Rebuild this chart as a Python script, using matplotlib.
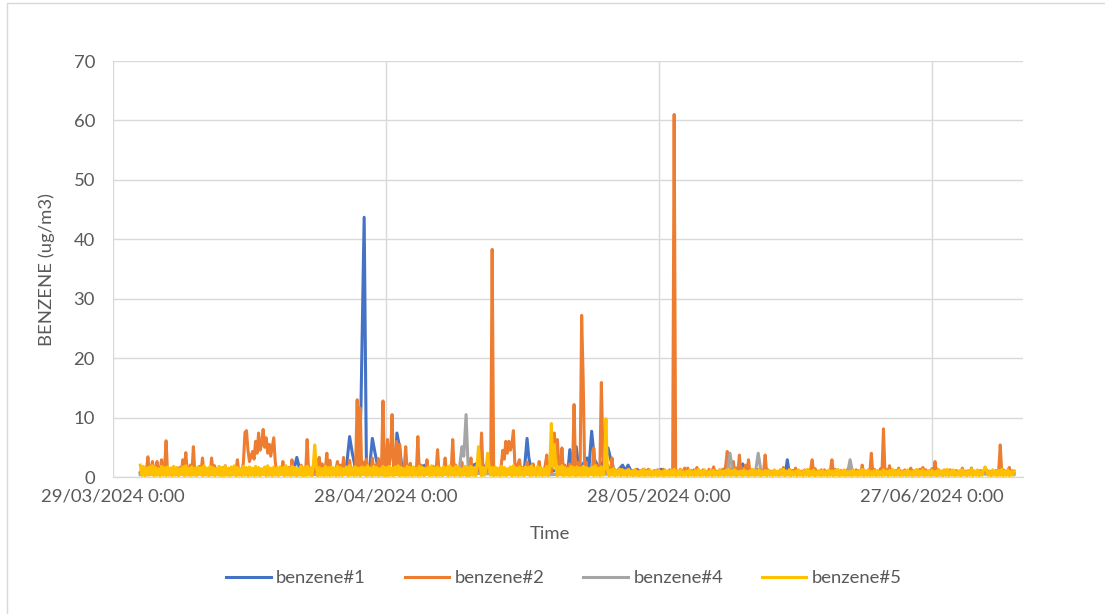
import matplotlib
matplotlib.use("Agg")
import matplotlib.pyplot as plt
from matplotlib.patches import Rectangle
from datetime import datetime, timedelta
import pandas as pd

# benzene#2 and #5 readings, one value every 4 h from 01/04/2024 00:00
# (each row below = 3 days)
START = datetime(2024, 4, 1)

benzene2 = [
    0.8, 0.5, 1.2, 0.6, 0.9, 3.4, 0.6, 1.0, 2.6, 0.7, 1.2, 2.6, 0.5, 0.9, 2.9, 0.6, 1.4, 6.1,
    0.6, 1.1, 0.5, 1.5, 0.6, 1.2, 0.5, 0.9, 1.6, 0.6, 2.9, 0.7, 4.1, 0.6, 1.0, 2.0, 0.6, 5.1,
    0.6, 1.2, 0.5, 1.8, 0.6, 3.2, 0.5, 1.1, 0.6, 1.4, 0.5, 3.2, 0.7, 1.9, 0.5, 1.0, 0.6, 1.2,
    0.5, 1.0, 1.9, 0.6, 1.2, 0.5, 0.8, 0.6, 1.5, 0.6, 2.9, 0.7, 1.3, 0.6, 2.5, 7.5, 7.8, 4.5,
    2.6, 3.5, 4.3, 3.0, 6.0, 4.0, 7.4, 4.5, 5.5, 8.0, 5.0, 6.6, 4.0, 5.5, 3.5, 5.0, 6.6, 2.5,
    0.8, 0.5, 1.2, 0.6, 2.6, 0.5, 1.0, 0.6, 1.6, 0.5, 2.9, 0.6, 1.1, 0.5, 1.3, 0.6, 2.0, 0.5,
    1.2, 0.6, 6.3, 0.7, 1.5, 0.5, 1.8, 0.6, 1.2, 2.5, 3.3, 0.7, 2.2, 0.6, 1.4, 4.0, 0.7, 2.8,
    0.6, 1.5, 0.5, 1.2, 2.6, 0.6, 2.0, 0.5, 3.3, 0.6, 1.4, 0.5, 2.8, 0.6, 1.5, 0.7, 2.0, 13.0,
    1.5, 11.6, 0.7, 2.5, 0.6, 3.0, 0.5, 1.5, 0.6, 3.2, 0.7, 2.0, 0.5, 3.1, 0.6, 1.2, 12.8, 0.8,
    1.5, 6.3, 2.0, 3.5, 10.5, 1.5, 2.0, 6.0, 1.0, 5.5, 1.5, 0.8, 1.5, 5.1, 0.7, 1.2, 2.3, 0.6,
    0.8, 1.5, 0.6, 6.8, 0.7, 2.0, 0.5, 1.3, 0.6, 2.9, 0.5, 1.2, 0.6, 1.8, 0.5, 1.0, 4.6, 0.6,
    1.4, 0.6, 1.0, 3.2, 0.6, 1.5, 0.5, 1.2, 6.3, 0.7, 2.0, 0.5, 1.3, 0.6, 2.5, 0.5, 1.2, 0.6,
    0.7, 1.4, 3.2, 0.6, 1.5, 0.5, 2.0, 0.6, 1.2, 7.4, 0.7, 1.6, 0.6, 1.3, 2.0, 0.6, 38.3, 0.8,
    1.5, 0.6, 1.2, 0.5, 2.0, 4.5, 3.0, 6.0, 4.0, 6.0, 4.5, 5.5, 7.8, 2.0, 1.0, 2.2, 2.9, 0.7,
    1.6, 0.6, 1.2, 2.5, 0.6, 1.8, 0.5, 2.2, 0.6, 1.4, 0.5, 2.6, 0.7, 1.3, 0.6, 2.0, 3.7, 0.6,
    1.8, 0.6, 2.5, 7.4, 3.0, 6.3, 2.0, 1.2, 4.9, 0.8, 2.0, 0.6, 1.5, 2.2, 0.6, 1.2, 12.2, 0.8,
    2.5, 0.8, 1.5, 27.2, 16.5, 1.0, 2.5, 0.6, 1.5, 0.7, 1.0, 4.9, 0.8, 2.0, 0.6, 1.2, 15.9, 4.0,
    1.2, 0.6, 2.0, 0.7, 1.0, 3.2, 0.6, 1.2, 0.5, 1.0, 0.6, 1.3, 0.5, 0.9, 0.6, 1.2, 0.5, 1.0,
    0.6, 1.1, 0.5, 1.3, 0.6, 0.9, 0.5, 1.2, 0.6, 1.0, 0.5, 1.3, 0.6, 0.8, 0.5, 1.1, 0.6, 1.2,
    0.5, 1.0, 0.6, 1.3, 0.5, 0.9, 0.6, 1.2, 0.5, 1.0, 61.0, 0.6, 1.0, 0.5, 1.3, 0.6, 1.0, 1.5,
    0.6, 1.5, 0.5, 1.1, 0.6, 1.2, 0.5, 1.6, 0.6, 1.0, 0.5, 1.2, 0.6, 0.9, 0.5, 1.3, 0.6, 1.0,
    1.7, 0.6, 1.0, 0.5, 1.2, 0.6, 1.3, 0.7, 2.0, 4.3, 1.5, 0.8, 1.2, 2.6, 0.7, 1.5, 0.8, 3.7,
    0.7, 1.5, 0.6, 2.0, 0.5, 2.9, 0.6, 1.2, 0.5, 1.0, 0.6, 1.3, 0.5, 1.2, 0.6, 1.0, 3.7, 0.6,
    1.2, 0.5, 1.0, 0.6, 1.1, 0.5, 0.9, 0.6, 1.2, 0.5, 1.6, 0.6, 1.0, 0.5, 1.3, 0.6, 1.1, 0.5,
    1.5, 0.6, 1.1, 0.5, 1.0, 0.6, 1.2, 0.5, 1.0, 0.6, 1.3, 2.9, 0.6, 1.4, 0.5, 1.0, 0.6, 1.2,
    0.5, 1.2, 0.6, 1.0, 0.5, 1.1, 2.9, 0.6, 1.3, 0.5, 1.0, 0.6, 1.1, 0.5, 1.0, 0.6, 1.2, 0.5,
    1.4, 0.6, 1.0, 0.5, 1.2, 0.6, 1.1, 0.5, 2.0, 0.6, 1.0, 0.5, 1.2, 0.6, 4.0, 0.5, 1.3, 0.6,
    1.0, 0.5, 1.4, 0.6, 8.1, 0.5, 1.2, 0.6, 1.9, 0.5, 1.0, 0.6, 1.1, 0.5, 1.5, 0.6, 1.0, 0.5,
    1.2, 0.6, 1.0, 0.5, 1.5, 0.6, 1.1, 0.5, 1.0, 0.6, 1.3, 0.5, 1.6, 0.6, 1.2, 0.5, 1.0, 0.6,
    1.4, 0.5, 2.6, 0.6, 1.3, 0.5, 1.0, 0.6, 1.2, 0.5, 0.9, 0.6, 1.2, 0.5, 1.0, 0.6, 1.1, 0.5,
    1.0, 0.6, 1.5, 0.5, 1.0, 0.6, 1.1, 0.5, 1.5, 0.6, 1.0, 0.5, 0.9, 0.6, 1.1, 0.5, 1.0, 0.6,
    1.2, 0.5, 1.0, 0.6, 0.9, 0.5, 1.1, 0.6, 1.2, 5.4, 0.6, 1.2, 1.0, 0.5, 1.1, 1.6, 0.6, 1.0,
    1.0,
]

benzene5 = [
    2.0, 0.3, 1.8, 0.2, 1.5, 0.3, 1.7, 0.4, 1.9, 0.2, 1.6, 0.3, 1.4, 0.2, 1.8, 0.3, 1.6, 0.2,
    1.7, 0.3, 1.5, 0.2, 1.8, 0.3, 1.6, 0.2, 1.4, 0.4, 1.7, 0.2, 1.9, 0.3, 1.5, 0.2, 1.7, 0.3,
    1.5, 0.2, 1.7, 0.4, 1.6, 0.2, 1.9, 0.3, 1.5, 0.2, 1.8, 0.3, 1.6, 0.2, 1.4, 0.3, 1.8, 0.2,
    1.6, 0.2, 1.8, 0.3, 1.5, 0.2, 1.7, 0.4, 1.9, 0.2, 1.6, 0.3, 1.4, 0.2, 1.8, 0.3, 1.6, 0.2,
    1.7, 0.3, 1.5, 0.2, 1.8, 0.3, 1.6, 0.2, 1.4, 0.4, 1.7, 0.2, 1.9, 0.3, 1.5, 0.2, 1.7, 0.3,
    1.5, 0.2, 1.7, 0.4, 1.6, 0.2, 1.9, 0.3, 1.5, 0.2, 1.8, 0.3, 1.6, 0.2, 1.4, 0.3, 1.8, 0.2,
    1.6, 0.2, 1.8, 0.3, 1.5, 0.2, 1.7, 5.4, 1.9, 0.2, 1.6, 0.3, 1.4, 0.2, 1.8, 0.3, 1.6, 0.2,
    1.7, 0.3, 1.5, 0.2, 1.8, 0.3, 1.6, 0.2, 1.4, 0.4, 1.7, 0.2, 1.9, 0.3, 1.5, 0.2, 1.7, 0.3,
    1.5, 0.2, 1.7, 0.4, 1.6, 0.2, 1.9, 0.3, 1.5, 0.2, 1.8, 0.3, 1.6, 0.2, 1.4, 0.3, 1.8, 0.2,
    1.6, 0.2, 1.8, 0.3, 1.5, 0.2, 1.7, 0.4, 1.9, 0.2, 1.6, 0.3, 1.4, 0.2, 1.8, 0.3, 1.6, 0.2,
    1.7, 0.3, 1.5, 0.2, 1.8, 0.3, 1.6, 0.2, 1.4, 0.4, 1.7, 0.2, 1.9, 0.3, 1.5, 0.2, 1.7, 0.3,
    1.5, 0.2, 1.7, 0.4, 1.6, 0.2, 1.9, 0.3, 1.5, 0.2, 1.8, 0.3, 1.6, 0.2, 1.4, 0.3, 1.8, 0.2,
    1.6, 0.2, 1.8, 0.3, 1.5, 0.2, 1.7, 5.1, 1.9, 0.2, 1.6, 0.3, 1.4, 4.0, 1.8, 0.3, 1.6, 0.2,
    1.7, 0.3, 1.5, 0.2, 1.8, 0.3, 1.6, 0.2, 1.4, 0.4, 1.7, 0.2, 1.9, 0.3, 1.5, 0.2, 1.7, 0.3,
    1.5, 0.2, 1.7, 0.4, 1.6, 0.2, 1.9, 0.3, 1.5, 0.2, 1.8, 0.3, 1.6, 0.2, 1.4, 0.3, 1.8, 0.2,
    1.6, 9.0, 1.8, 5.5, 1.5, 0.2, 1.7, 0.4, 1.9, 0.2, 1.6, 0.3, 1.4, 0.2, 1.8, 0.3, 1.6, 0.2,
    1.7, 0.3, 1.5, 0.2, 1.8, 0.3, 1.6, 0.2, 1.4, 0.4, 1.7, 0.2, 1.9, 0.3, 1.5, 0.2, 1.7, 0.3,
    1.4, 9.8, 1.3, 0.2, 1.2, 0.3, 1.4, 0.2, 1.1, 0.3, 1.3, 0.2, 1.2, 0.3, 1.1, 0.2, 1.3, 0.3,
    1.0, 0.2, 1.2, 0.3, 0.9, 0.2, 1.1, 0.3, 1.3, 0.2, 1.0, 0.3, 1.2, 0.2, 0.9, 0.3, 1.1, 0.2,
    1.1, 0.3, 0.9, 0.2, 1.2, 0.3, 1.0, 0.2, 1.1, 0.3, 1.3, 0.2, 1.0, 0.3, 1.2, 0.2, 0.9, 0.3,
    1.0, 0.2, 1.2, 0.3, 0.9, 0.2, 1.1, 0.3, 1.3, 0.2, 1.0, 0.3, 1.2, 0.2, 0.9, 0.3, 1.1, 0.2,
    1.1, 0.3, 0.9, 0.2, 1.2, 0.3, 1.0, 0.2, 1.1, 0.3, 1.3, 0.2, 1.0, 0.3, 1.2, 0.2, 0.9, 0.3,
    1.0, 0.2, 1.2, 0.3, 0.9, 0.2, 1.1, 0.3, 1.3, 0.2, 1.0, 0.3, 1.2, 0.2, 0.9, 0.3, 1.1, 0.2,
    1.1, 0.3, 0.9, 0.2, 1.2, 0.3, 1.0, 0.2, 1.1, 0.3, 1.3, 0.2, 1.0, 0.3, 1.2, 0.2, 0.9, 0.3,
    1.0, 0.2, 1.2, 0.3, 0.9, 0.2, 1.1, 0.3, 1.3, 0.2, 1.0, 0.3, 1.2, 0.2, 0.9, 0.3, 1.1, 0.2,
    1.1, 0.3, 0.9, 0.2, 1.2, 0.3, 1.0, 0.2, 1.1, 0.3, 1.3, 0.2, 1.0, 0.3, 1.2, 0.2, 0.9, 0.3,
    1.0, 0.2, 1.2, 0.3, 0.9, 0.2, 1.1, 0.3, 1.3, 0.2, 1.0, 0.3, 1.2, 0.2, 0.9, 0.3, 1.1, 0.2,
    1.1, 0.3, 0.9, 0.2, 1.2, 0.3, 1.0, 0.2, 1.1, 0.3, 1.3, 0.2, 1.0, 0.3, 1.2, 0.2, 0.9, 0.3,
    1.0, 0.2, 1.2, 0.3, 0.9, 0.2, 1.1, 0.3, 1.3, 0.2, 1.0, 0.3, 1.2, 0.2, 0.9, 0.3, 1.1, 0.2,
    1.1, 0.3, 0.9, 0.2, 1.2, 0.3, 1.0, 0.2, 1.1, 0.3, 1.3, 0.2, 1.0, 0.3, 1.2, 0.2, 0.9, 0.3,
    1.0, 0.2, 1.2, 0.3, 0.9, 0.2, 1.1, 0.3, 1.3, 0.2, 1.0, 0.3, 1.2, 0.2, 0.9, 0.3, 1.1, 1.7,
    1.1, 0.3, 0.9, 0.2, 1.2, 0.3, 1.0, 0.2, 1.1, 0.3, 1.3, 0.2, 1.0, 0.3, 1.2, 0.2, 0.9, 0.3,
    1.0,
]

# benzene#1 and #4: (days after START, value)
benzene1_points = [
    (0.0, 0.6), (3.0, 0.5), (6.0, 0.7), (9.0, 0.5), (12.0, 0.6), (15.0, 0.5),
    (16.8, 0.6), (17.2, 3.3), (17.6, 0.8), (19.0, 0.6), (21.0, 0.7),
    (22.6, 0.8), (23.0, 6.8), (23.3, 4.0), (23.7, 1.0), (24.0, 1.0),
    (24.25, 12.0), (24.6, 43.7), (24.85, 1.5), (25.2, 1.5), (25.5, 6.5),
    (25.8, 4.0), (26.2, 1.0), (28.0, 1.5), (28.2, 7.4), (28.5, 4.9),
    (28.8, 1.0), (31.0, 1.8), (31.3, 2.0), (32.0, 0.6), (35.0, 0.7),
    (37.0, 2.3), (37.5, 0.8), (38.2, 2.6), (38.6, 0.7), (40.0, 0.8),
    (42.2, 1.0), (42.5, 6.5), (42.7, 3.2), (43.0, 1.0), (45.0, 1.0),
    (47.0, 1.2), (47.2, 4.6), (47.5, 1.5), (47.9, 5.1), (48.2, 1.2),
    (49.1, 3.2), (49.3, 1.4), (49.6, 7.7), (49.9, 3.0), (50.5, 1.2),
    (51.4, 4.9), (51.7, 2.9), (52.0, 1.4), (52.3, 0.8), (53.0, 2.0),
    (53.3, 1.0), (53.6, 2.0), (54.0, 0.8), (54.6, 1.3), (55.0, 0.7),
    (55.3, 1.3), (56.0, 0.6), (57.3, 1.3), (57.6, 0.6), (61.0, 0.5),
    (64.0, 0.7), (66.0, 0.8), (66.2, 2.2), (66.4, 0.8), (69.0, 0.6),
    (70.9, 0.8), (71.1, 2.9), (71.3, 0.8), (74.0, 0.6), (78.0, 0.5),
    (82.0, 0.7), (86.0, 0.6), (90.0, 0.5), (94.0, 0.7), (96.0, 0.6),
]

benzene4_points = [
    (0.0, 0.4), (5.0, 0.5), (10.0, 0.4), (15.0, 0.5), (20.0, 0.4),
    (25.0, 0.5), (30.0, 0.4), (35.0, 0.6), (35.35, 5.1), (35.55, 3.5),
    (35.8, 10.5), (36.05, 0.6), (40.0, 0.5), (45.0, 0.4), (50.0, 0.5),
    (55.0, 0.4), (60.0, 0.5), (64.5, 0.6), (64.8, 4.0), (65.1, 1.0),
    (67.6, 0.8), (67.9, 4.0), (68.2, 1.0), (70.0, 0.5), (75.0, 0.4),
    (77.7, 0.6), (78.0, 2.9), (78.3, 0.6), (82.0, 0.5), (88.0, 0.4),
    (92.0, 0.5), (96.0, 0.4),
]

series_names = ["benzene#1", "benzene#2", "benzene#4", "benzene#5"]
series_colors = ["#4472C4", "#ED7D31", "#A5A5A5", "#FFC000"]

x_tick_dates = ["2024-03-29", "2024-04-28", "2024-05-28", "2024-06-27"]
x_tick_labels = ["29/03/2024 0:00", "28/04/2024 0:00", "28/05/2024 0:00", "27/06/2024 0:00"]
y_ticks = [0, 10, 20, 30, 40, 50, 60, 70]

TEXT = "#595959"
GRID = "#D9D9D9"
FONT = "Lato"
FS = 13.3


def from_points(points):
    t = [START + timedelta(days=d) for d, _ in points]
    v = [val for _, val in points]
    return t, v


def main():
    plt.rcParams["font.family"] = [FONT, "DejaVu Sans"]

    fig = plt.figure(figsize=(11.05, 6.14), dpi=100)
    W, H = 1105, 614
    ax = fig.add_axes([113 / W, 1 - 477 / H, 910 / W, 416 / H])

    t4h = pd.date_range(START, periods=len(benzene2), freq="4h")
    t1, v1 = from_points(benzene1_points)
    t4, v4 = from_points(benzene4_points)

    series = [(t1, v1), (t4h, benzene2), (t4, v4), (t4h, benzene5)]
    lines = []
    for (t, v), name, color in zip(series, series_names, series_colors):
        ln, = ax.plot(t, v, color=color, lw=2.2, label=name, zorder=3)
        lines.append(ln)

    ax.set_xlim(datetime(2024, 3, 29), datetime(2024, 7, 7))
    ax.set_ylim(0, 70)
    ax.set_xticks(pd.to_datetime(x_tick_dates), labels=x_tick_labels)
    ax.set_yticks(y_ticks)

    ax.grid(True, color=GRID, lw=1)
    ax.set_axisbelow(True)
    for side in ["top", "right", "left"]:
        ax.spines[side].set_visible(False)
    ax.spines["bottom"].set_color(GRID)
    ax.spines["bottom"].set_linewidth(1)

    ax.tick_params(axis="both", length=0, labelcolor=TEXT, labelsize=FS)
    ax.tick_params(axis="x", pad=8)
    ax.tick_params(axis="y", pad=13)

    fig.text(47 / W, 1 - 270 / H, "BENZENE (ug/m3)", rotation=90,
             ha="center", va="center", color=TEXT, fontsize=FS)
    fig.text(550 / W, 1 - 534 / H, "Time", ha="center", va="center",
             color=TEXT, fontsize=FS)

    fig.legend(handles=lines, loc="center", bbox_to_anchor=(564 / W, 1 - 578 / H),
               ncol=4, frameon=False, fontsize=FS, labelcolor=TEXT,
               handlelength=2.4, handletextpad=0.3, columnspacing=2.1)

    # chart border (only left and top edges fall inside the canvas)
    fig.add_artist(Rectangle((7 / W, -0.05), 1.1, 1.05 - 3 / H,
                             transform=fig.transFigure, fill=False,
                             edgecolor=GRID, lw=1))

    fig.savefig("out.png", dpi=100)


if __name__ == "__main__":
    main()
